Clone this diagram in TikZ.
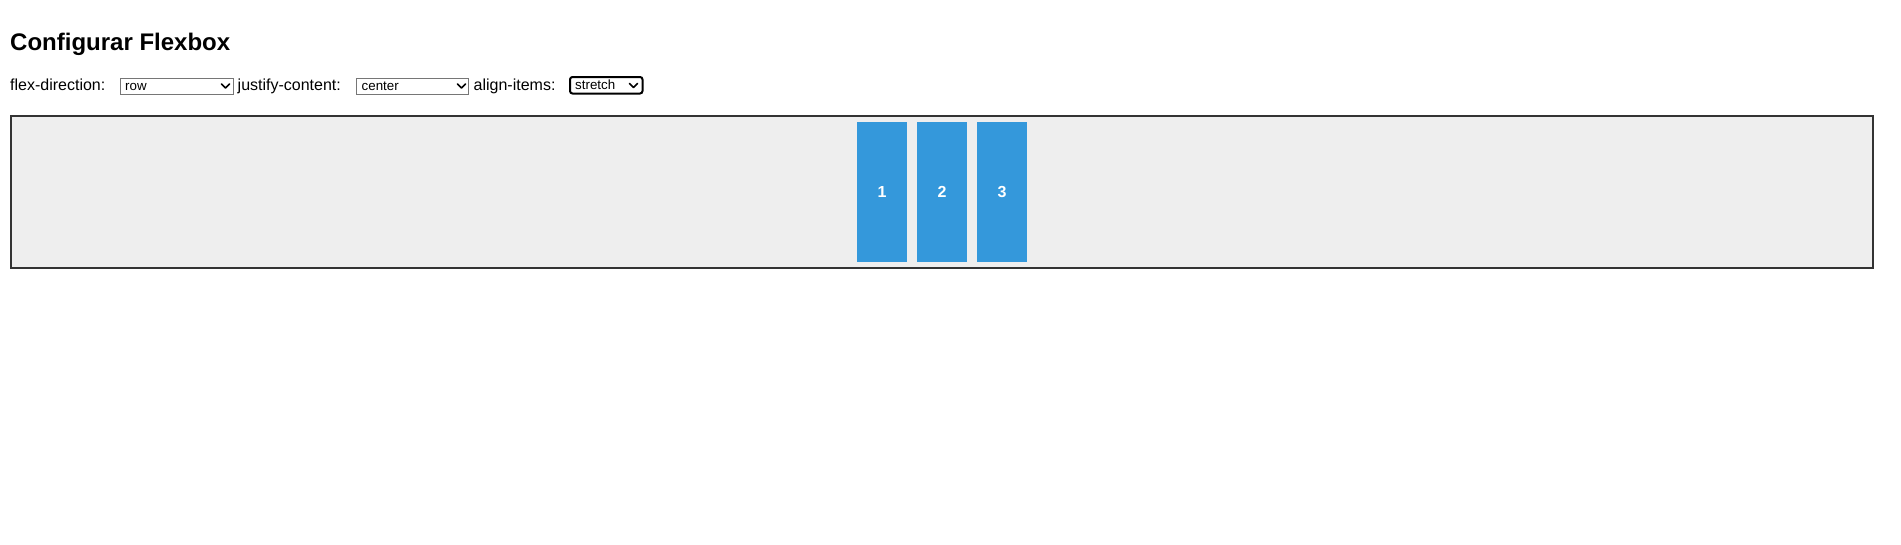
\documentclass[tikz,border=0pt]{standalone}
\usepackage{fontspec}
\setmainfont{Liberation Sans}
\definecolor{boxblue}{HTML}{3498DB}
\definecolor{panelfill}{HTML}{EEEEEE}
\definecolor{panelline}{HTML}{333333}
\definecolor{selgray}{HTML}{767676}
\begin{document}
\begin{tikzpicture}[x=1pt,y=-1pt,
  lbl/.style={anchor=base west, inner sep=0pt, font=\fontsize{16}{19}\selectfont},
  seltxt/.style={anchor=base west, inner sep=0pt, font=\fontsize{13.33}{16}\selectfont},
  selbox/.style={draw=selgray, line width=1pt, fill=white},
  selfocus/.style={draw=black, line width=2pt, fill=white, rounded corners=2.5pt},
  chev/.style={line width=1.7pt, line cap=round, line join=round},
  panel/.style={draw=panelline, line width=2pt, fill=panelfill},
  item/.style={fill=boxblue, minimum width=50pt, minimum height=140pt, inner sep=0pt,
    text=white, font=\bfseries\fontsize{16}{19}\selectfont}]
\useasboundingbox[fill=white] (0,0) rectangle (1901,544);

% title
\node[anchor=base west, inner sep=0pt, font=\bfseries\fontsize{24}{29}\selectfont] (title) at (10,50) {Configurar Flexbox};

% controls
\node[lbl] (l1) at (10,90) {flex-direction:};
\draw[selbox] (120.5,78.5) rectangle (233.5,94.5);
\node[seltxt] (s1) at (125,90) {row};
\draw[chev] (221.5,84) -- (225.5,88) -- (229.5,84);

\node[lbl] (l2) at (237.5,90) {justify-content:};
\draw[selbox] (356.5,78.5) rectangle (468.5,94.5);
\node[seltxt] (s2) at (361.5,90) {center};
\draw[chev] (457.5,84) -- (461.5,88) -- (465.5,84);

\node[lbl] (l3) at (473.5,90) {align-items:};
\draw[selfocus] (570,77) rectangle (642.5,93.5);
\node[seltxt] (s3) at (575,89.5) {stretch};
\draw[chev] (629.5,83.5) -- (633.5,87.5) -- (637.5,83.5);

% flex container
\draw[panel] (11,116) rectangle (1873,268);
\node[item] (i1) at (882,192) {1};
\node[item] (i2) at (942,192) {2};
\node[item] (i3) at (1002,192) {3};
\end{tikzpicture}
\end{document}
